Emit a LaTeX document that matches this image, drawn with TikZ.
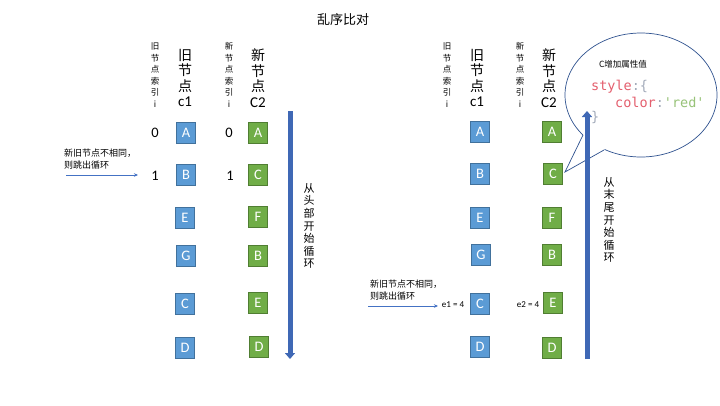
\documentclass[tikz,border=0pt]{standalone}
\usepackage{fontspec}
\setmainfont{Carlito}
\newfontfamily\cjk{Noto Sans CJK SC}
\newfontfamily\codefont{DejaVu Sans Mono}
\usetikzlibrary{arrows.meta,shapes.geometric}
\definecolor{bfill}{HTML}{5B9BD5}
\definecolor{bborder}{HTML}{41719C}
\definecolor{gfill}{HTML}{70AD47}
\definecolor{gborder}{HTML}{507E32}
\definecolor{lineblue}{HTML}{4472C4}
\definecolor{arrowblue}{HTML}{3F68B5}
\definecolor{callborder}{HTML}{2F528F}
\definecolor{codered}{HTML}{E45F6E}
\definecolor{codegray}{HTML}{A3ABBA}
\definecolor{codegreen}{HTML}{98C379}
\tikzset{
  bbox/.style={draw=bborder, fill=bfill, text=white, minimum width=19pt, minimum height=21pt, inner sep=0pt, font=\fontsize{14.5}{14.5}\selectfont, line width=0.8pt},
  gbox/.style={draw=gborder, fill=gfill, text=white, minimum width=19pt, minimum height=21pt, inner sep=0pt, font=\fontsize{14.5}{14.5}\selectfont, line width=0.8pt},
  idx/.style={inner sep=0pt, font=\fontsize{14.5}{14.5}\selectfont},
  smallv/.style={align=center, inner sep=0pt, font=\cjk\fontsize{8.5}{11.5}\selectfont},
  bigv/.style={align=center, inner sep=0pt, font=\cjk\fontsize{14}{15.6}\selectfont},
  loopv/.style={align=center, inner sep=0pt, font=\cjk\fontsize{11}{12.6}\selectfont},
  note/.style={align=left, anchor=north west, inner sep=0pt, font=\cjk\fontsize{9}{11.5}\selectfont},
  eq/.style={inner sep=0pt, font=\fontsize{9}{9}\selectfont},
  thinarrow/.style={draw=lineblue, line width=0.7pt, -{Stealth[length=4pt,width=3.5pt]}},
  bigarrow/.style={draw=arrowblue, line width=5pt, -{Triangle[length=6pt,width=10pt]}},
}
\begin{document}
\begin{tikzpicture}[x=1pt,y=-1pt]
\useasboundingbox[fill=white] (0,0) rectangle (720,405);
\node[inner sep=0pt, font=\cjk\fontsize{13}{13}\selectfont] (title) at (343,20) {乱序比对};

% ---------- left ----------
\node[smallv] (lsi1) at (155,75) {旧\\节\\点\\索\\引\\i};
\node[bigv] (lc1) at (185,78) {旧\\节\\点\\{\rmfamily\fontsize{15}{15}\selectfont c1}};
\node[smallv] (lsi2) at (229,75) {新\\节\\点\\索\\引\\i};
\node[bigv] (lc2) at (258,78) {新\\节\\点\\{\rmfamily\fontsize{15}{15}\selectfont C2}};

\node[idx] (li0) at (155,133) {0};
\node[idx] (li1) at (155,176) {1};
\node[idx] (lj0) at (229,133) {0};
\node[idx] (lj1) at (230,176) {1};

\node[bbox] (lbA) at (186,133) {A};
\node[bbox] (lbB) at (186,175) {B};
\node[bbox] (lbE) at (185,218) {E};
\node[bbox] (lbG) at (186,256) {G};
\node[bbox] (lbC) at (185,304) {C};
\node[bbox] (lbD) at (185,348) {D};

\node[gbox] (lgA) at (258,133) {A};
\node[gbox] (lgC) at (258,175) {C};
\node[gbox] (lgF) at (258,217) {F};
\node[gbox] (lgB) at (258,256) {B};
\node[gbox] (lgE) at (258,303) {E};
\node[gbox] (lgD) at (259,347) {D};

\node[note] (lnote) at (64,149) {新旧节点不相同，\\则跳出循环};
\coordinate (la1) at (66,175);
\coordinate (la2) at (138,175);
\draw[thinarrow] (la1) -- (la2);

\coordinate (lb1) at (290,111);
\coordinate (lb2) at (290,359);
\draw[bigarrow] (lb1) -- (lb2);
\node[loopv] (lloop) at (309,226) {从\\头\\部\\开\\始\\循\\环};

% ---------- right ----------
\node[smallv] (rsi1) at (447,75) {旧\\节\\点\\索\\引\\i};
\node[bigv] (rc1) at (477,78) {旧\\节\\点\\{\rmfamily\fontsize{15}{15}\selectfont c1}};
\node[smallv] (rsi2) at (520,75) {新\\节\\点\\索\\引\\i};
\node[bigv] (rc2) at (549,78) {新\\节\\点\\{\rmfamily\fontsize{15}{15}\selectfont C2}};

\node[bbox] (rbA) at (480,132) {A};
\node[bbox] (rbB) at (480,174) {B};
\node[bbox] (rbE) at (480,218) {E};
\node[bbox] (rbG) at (481,255) {G};
\node[bbox] (rbC) at (480,304) {C};
\node[bbox] (rbD) at (480,347) {D};

\node[gbox] (rgA) at (552,132) {A};
\node[gbox] (rgC) at (553,174) {C};
\node[gbox] (rgF) at (552,218) {F};
\node[gbox] (rgB) at (552,255) {B};
\node[gbox] (rgE) at (553,303) {E};
\node[gbox] (rgD) at (552,348) {D};

\node[eq] (e1) at (453,305) {e1 = 4};
\node[eq] (e2) at (528,305) {e2 = 4};

\node[note] (rnote) at (370,280) {新旧节点不相同，\\则跳出循环};
\coordinate (ra1) at (368,306);
\coordinate (ra2) at (438,306);
\draw[thinarrow] (ra1) -- (ra2);

% callout
\node[ellipse, draw=callborder, fill=white, line width=0.7pt, minimum width=152pt, minimum height=124pt, inner sep=0pt] (call) at (641,95) {};
\coordinate (tip) at (565,172);
\coordinate (cb1) at (583,135);
\coordinate (cb2) at (604,150);
\fill[white] (cb1) -- (tip) -- (cb2) -- (612,140) -- (590,128) -- cycle;
\draw[callborder, line width=0.7pt] (cb1) -- (tip) -- (cb2);
\node[inner sep=0pt, font=\cjk\fontsize{8.5}{8.5}\selectfont] (calltitle) at (623,64) {C增加属性值};
\node[inner sep=0pt, anchor=west, font=\codefont\fontsize{13.5}{13.5}\selectfont] (code1) at (591,87) {\textcolor{codered}{style}\textcolor{codegray}{:\{}};
\node[inner sep=0pt, anchor=west, font=\codefont\fontsize{13.5}{13.5}\selectfont] (code2) at (615,102) {\textcolor{codered}{color}\textcolor{codegray}{:}\textcolor{codegreen}{'red'}};
\node[inner sep=0pt, anchor=west, font=\codefont\fontsize{13.5}{13.5}\selectfont] (code3) at (591,117) {\textcolor{codegray}{\}}};

\coordinate (rb1) at (587,359);
\coordinate (rb2) at (587,111);
\draw[bigarrow] (rb1) -- (rb2);
\node[loopv] (rloop) at (609,220) {从\\末\\尾\\开\\始\\循\\环};
\end{tikzpicture}
\end{document}
